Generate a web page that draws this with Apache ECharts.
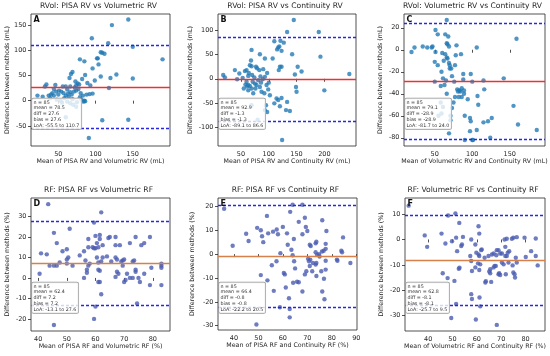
<!DOCTYPE html>
<html><head><meta charset="utf-8">
<script src="https://cdn.jsdelivr.net/npm/echarts@6/dist/echarts.min.js"></script>
<style>html,body{margin:0;padding:0;background:#fff}#c{width:550px;height:356px}</style>
</head><body><div id="c"></div>
<script>
// ---- DATA (mean of methods, difference between methods) ----
const ptsA = [[144,161],[122,150],[95,124],[117,114],[150,107],[107,96],[109,95],[112,93],[190,82],[102,84],[103,84],[79,82],[85,78],[104,72],[96,64],[69,57],[67,53],[86,51],[128,52],[107,48],[120,45],[150,44],[65,45],[82,43],[89,35],[76,34],[78,32],[66,28],[60,28],[74,30],[118,25],[44,23],[32,28],[34,32],[46,31],[22,10],[51,20],[54,18],[74,20],[77,23],[72,26],[88,12],[92,13],[96,14],[44,10],[37,10],[60,10],[64,8],[69,3],[79,7],[85,0],[86,-1],[62,-2],[66,-5],[70,-8],[75,-3],[55,-4],[48,2],[57,15],[63,14],[68,12],[80,15],[81,2],[58,5],[50,12],[42,15],[39,5],[29,8],[60,-33],[109,-39],[144,-38],[91,-74],[74,-12],[53,0],[47,18],[71,18],[83,10],[56,28],[62,22],[73,38],[99,40],[93,30],[84,-2],[66,17],[40,12]];
const ptsB = [[145,122],[133,97],[190,97],[110,78],[121,79],[127,75],[119,67],[117,65],[123,58],[115,61],[69,60],[84,51],[142,51],[107,42],[93,42],[68,38],[193,46],[120,25],[123,25],[118,18],[152,25],[159,15],[147,9],[245,10],[57,16],[60,18],[39,18],[47,11],[18,8],[21,3],[66,28],[69,26],[77,25],[79,22],[83,18],[90,20],[97,12],[93,4],[43,-1],[63,6],[60,-6],[63,-13],[66,-15],[55,-20],[69,-20],[75,-10],[78,-13],[84,-17],[87,-27],[96,-13],[99,-22],[102,-34],[114,-41],[117,-44],[123,-40],[149,-17],[150,-27],[200,-24],[110,-51],[120,-57],[133,-48],[138,-67],[131,-65],[93,-65],[97,-69],[69,-55],[95,-55],[80,-85],[124,-127],[71,-6],[81,-3],[89,-1],[63,-24],[72,-30],[58,-12],[64,12],[74,3],[86,-8],[53,2],[76,-20],[92,-30],[100,-8],[70,8],[61,-16],[85,5]];
const ptsC = [[66,27],[51,18],[54,14],[64,14],[68,12],[159,10],[19,-2],[23,2],[34,3],[40,2],[46,2],[47,3],[51,-2],[66,6],[67,5],[69,3],[79,4],[64,-4],[66,-7],[85,-4],[106,2],[50,-11],[54,-14],[67,-8],[69,-12],[70,-14],[70,-17],[72,-17],[59,-20],[77,-14],[88,-22],[98,-22],[61,-26],[65,-28],[50,-29],[100,-29],[115,-28],[142,-26],[76,-29],[88,-27],[58,-33],[63,-32],[80,-36],[83,-37],[81,-38],[86,-35],[89,-37],[116,-36],[66,-40],[77,-43],[82,-43],[86,-43],[89,-40],[107,-42],[108,-50],[155,-51],[61,-52],[73,-53],[75,-48],[71,-60],[71,-64],[90,-60],[97,-62],[98,-65],[126,-62],[121,-65],[115,-66],[161,-68],[106,-73],[97,-74],[186,-73],[69,-76],[90,-82],[100,-82],[101,-82],[124,-80],[55,-60],[59,-58],[58,-48],[62,-10],[73,-24],[84,-38],[78,-5],[60,-3],[94,-45]];
const ptsD = [[43.5,36],[62,32],[59.5,27],[45.5,22],[51,24],[46.5,17],[48.5,13],[41,12],[43,11.5],[50,14],[44,6],[45.5,6],[46.5,6],[47.5,7.5],[40.5,2],[50,9],[50.5,10],[50,7],[52,6],[54.5,11],[56,13],[57.5,15],[57.5,19],[59,15],[59.5,14.5],[60.5,17],[60,20.5],[61.5,21],[61.5,19],[62.5,16],[61,15],[60,14.5],[60.5,10],[56.5,8.5],[57,4],[58,7],[57.5,6],[56,0],[57,2.5],[61,7.5],[61,4],[61.5,3.5],[61,-2],[61.5,-2],[62,8],[62.5,10],[62,-8],[60,-14],[59.5,-20],[45.5,-23],[64,10.5],[65,20],[64.5,19.5],[65.5,8],[67,10],[67.5,9],[67,0.5],[67.5,3],[68,2],[67,20],[67,16],[68.5,16],[69,8],[69.5,8.5],[69.5,6],[70,-2],[70.5,-1],[71,2],[70,9],[72,17],[73,8],[73.5,8.5],[72,0],[73,0],[74,4],[74,3],[74,20],[75,0],[75.5,-2],[74.5,-12.5],[76,16],[77,17],[77,2],[79,-3.5],[79,20],[79.5,5],[83,7],[83,6],[83,5],[83,-3.5]];
const ptsE = [[36,19],[39.5,3.5],[45,8.5],[46,5.5],[49.5,11],[51,10],[51.5,7.5],[52,5],[53.5,16],[54,8.7],[56,9.4],[57.5,10.3],[58,8.3],[60,11.4],[61.7,8.7],[63,17.7],[64,20.7],[68,20.7],[66.5,13.5],[69,15.2],[69.4,11.4],[70,9.7],[68,8.3],[64.5,6.3],[62,3.9],[59,0.4],[63.5,1.8],[64,-0.5],[64.6,-3],[65,-6],[55.5,-4.7],[57.4,-3],[60.4,-7.9],[60.8,-8.5],[51,-8.8],[53.7,-11],[61.2,-14],[56.3,-15.4],[62.5,-18.5],[58.8,-22.3],[62.8,-23],[62.8,-26.5],[49.2,-29.5],[64.2,-12],[65.8,-11.6],[66.5,-11.8],[68,-15.7],[69,-8.5],[69.6,-7.2],[71,-5],[70.7,-3],[70.3,-2],[71.2,-2.3],[71,3.9],[71.4,3.4],[72.3,-3.7],[72,-7.2],[73.4,0.8],[74,-0.3],[73.4,4.5],[73.7,5.2],[74.8,0],[75,-1],[73.7,-3.7],[73.4,-4.4],[73.7,-9.2],[76,1.1],[76.7,1.4],[75.7,-7.2],[76.1,14.2],[76.1,-15.7],[76.8,-10.3],[77,-18.9],[77.8,9.7],[77.5,4.3],[77.5,2.2],[77.5,-2.8],[77.5,-6.5],[82.1,-2.3],[82.3,-2.8],[83.9,1.4],[84.2,0.8],[84.6,7],[87.6,-3.7]];
const ptsF = [[32,13.3],[38.6,1.6],[39.6,-2.9],[45.5,2.3],[46,-13.3],[47.1,-1.6],[48.2,9.4],[48,-15.2],[49.8,-0.7],[51.2,10.2],[51.5,0.7],[51.9,-4.6],[52.6,-11.5],[52.9,-11.1],[52.8,6.5],[53.6,-2.6],[53.9,-2],[54.3,1],[50.8,-16.3],[51.5,-25.4],[49.5,-30.9],[57.7,0],[57.3,-6.5],[57.7,-8.5],[58,-12.4],[57.7,-21.5],[58,-23.4],[59.4,-2],[59.8,-5.2],[59.4,-11],[59.6,-31.5],[60.7,5.2],[61,2.3],[60.7,-5.9],[61,-6.5],[60.5,-9.4],[61.4,-9.8],[61,-12],[61.1,-22.8],[61.4,-26.3],[61.8,-4.2],[62,-3.9],[63.2,-7.2],[63.5,-16.9],[63.7,-16.4],[64.8,-6.5],[65.5,-11.7],[65.1,-12.6],[65.5,-13.3],[65.9,-16.7],[66.2,-5.9],[66.9,-5.5],[66.9,-11],[67.3,-10.4],[67.8,-10.4],[68,-6.2],[68.2,-4.2],[68.9,-4.2],[68.9,-13.7],[69.2,-13.3],[69.6,-14],[69.6,-5.5],[70.3,-5.5],[70.3,-9.1],[71,-9.8],[71.4,0],[71.7,-6.5],[72.3,-6.5],[71.7,-2.9],[71.9,-13.7],[72.3,0.3],[72.7,-5.2],[73.3,-4.6],[73,-9.1],[74.4,0.3],[75,0.7],[74.7,-10.2],[75,-13],[75.5,-13.7],[75.7,-15],[76,-7.2],[76.4,-9.1],[76.4,0.9],[79.6,0.7],[80.1,-6.9],[82.3,-4.6],[84.2,0.4],[84.2,-6.5],[85,-10.2],[68.2,-33.6]];

const panelTitles = ['RVol: PISA RV vs Volumetric RV','RVol: PISA RV vs Continuity RV','RVol: Volumetric RV vs Continuity RV','RF: PISA RF vs Volumetric RF','RF: PISA RF vs Continuity RF','RF: Volumetric RF vs Continuity RF'];
const panelLetters = ['A','B','C','D','E','F'];
const xNames = ['Mean of PISA RV and Volumetric RV (mL)','Mean of PISA RV and Continuity RV (mL)','Mean of Volumetric RV and Continuity RV (mL)','Mean of PISA RF and Volumetric RF (%)','Mean of PISA RF and Continuity RF (%)','Mean of Volumetric RF and Continuity RF (%)'];
const yNames = ['Difference between methods (mL)','Difference between methods (mL)','Difference between methods (mL)','Difference between methods (%)','Difference between methods (%)','Difference between methods (%)'];
const statN = [85,85,85,85,85,85];
const statMean = ['78.5','92.9','79.1','62.4','66.4','62.8'];
const statBias = ['27.6','-1.3','-28.9','7.2','-0.8','-8.1'];
const loaLow = ['-55.5','-89.1','-81.7','-13.1','-22.2','-25.7'];
const loaHigh = ['110.7','86.6','24.0','27.6','20.5','9.5'];
const xTicks = [[50,100,150],[50,100,150,200],[50,100,150],[40,50,60,70,80],[40,50,60,70,80,90],[40,50,60,70,80]];
const yTicks = [[-50,0,50,100,150],[-100,-50,0,50,100],[-80,-60,-40,-20,0,20],[-20,-10,0,10,20,30],[-30,-20,-10,0,10,20],[-30,-20,-10,0,10]];

// ---- LAYOUT ----
const xRange = [[13.3,200],[8.6,257],[9,197],[37.5,86],[33.5,90.3],[30.5,88]];
const yRange = [[-90,172],[-139.5,134.5],[-87.5,32.5],[-25.9,39],[-31.8,23.5],[-36,16.3]];
const grids = [
  {left:31, top:14, width:139, height:132},
  {left:218, top:14, width:138, height:132},
  {left:404, top:14, width:141, height:132},
  {left:31, top:198, width:139, height:133},
  {left:218, top:198, width:139, height:132},
  {left:405, top:198, width:140, height:133}
];
const yNameGap = [21,25,21,21,23,21];
const allPts = [ptsA,ptsB,ptsC,ptsD,ptsE,ptsF];
const FONT = 'DejaVu Sans';

function refLineSeries(i, value, color, type, width) {
  return {
    type:'scatter', xAxisIndex:i, yAxisIndex:i, data:[], silent:true, z:3,
    markLine:{silent:true, symbol:['none','none'], label:{show:false}, animation:false,
      lineStyle:{color:color, width:width, type:type, opacity:1},
      emphasis:{disabled:true},
      data:[{yAxis:value}]}
  };
}

const option = {animation:false, backgroundColor:'#fff', grid:[], xAxis:[], yAxis:[], series:[], graphic:[]};
grids.forEach((g,i)=>{
  const top = i < 3;
  option.grid.push({left:g.left, top:g.top, width:g.width, height:g.height, show:true, borderColor:'#262626', borderWidth:0.8, backgroundColor:'transparent'});
  const axisCommon = {
    axisLine:{show:false}, splitLine:{show:false},
    axisTick:{show:true, length:3, lineStyle:{color:'#262626', width:0.8}},
    axisLabel:{fontFamily:FONT, fontSize:6.5, color:'#262626'},
    nameTextStyle:{fontFamily:FONT, fontSize:6.3, color:'#262626'},
    nameLocation:'middle'
  };
  option.xAxis.push(Object.assign({}, axisCommon, {
    type:'value', gridIndex:i, min:xRange[i][0], max:xRange[i][1], name:xNames[i], nameGap:12,
    axisTick:Object.assign({}, axisCommon.axisTick, {customValues:xTicks[i]}),
    axisLabel:Object.assign({}, axisCommon.axisLabel, {customValues:xTicks[i], margin:4.5})
  }));
  option.yAxis.push(Object.assign({}, axisCommon, {
    type:'value', gridIndex:i, min:yRange[i][0], max:yRange[i][1], name:yNames[i], nameGap:yNameGap[i],
    axisTick:Object.assign({}, axisCommon.axisTick, {customValues:yTicks[i]}),
    axisLabel:Object.assign({}, axisCommon.axisLabel, {customValues:yTicks[i], margin:4.5})
  }));
  option.series.push({
    type:'scatter', xAxisIndex:i, yAxisIndex:i, data:allPts[i], symbolSize:4.4, z:2,
    itemStyle:{color: top ? '#1f77b4' : '#4b5db0', opacity: top ? 0.78 : 0.8}
  });
  option.series.push(refLineSeries(i, parseFloat(statBias[i]), top ? '#f03030' : '#d8804a', 'solid', 1.4));
  option.series.push(refLineSeries(i, parseFloat(loaHigh[i]), '#2828e0', [3,2], 1.3));
  option.series.push(refLineSeries(i, parseFloat(loaLow[i]), '#2828e0', [3,2], 1.3));
  option.graphic.push({type:'text', x:g.left + g.width/2 - 2, y:g.top - 7.5, z:50,
    style:{text:panelTitles[i], fontFamily:FONT, fontSize:7.6, fill:'#262626', align:'center', verticalAlign:'middle'}});
  option.graphic.push({type:'text', x:g.left + 2.5, y:g.top + 2, z:50,
    style:{text:panelLetters[i], fontFamily:FONT, fontSize:8, fontWeight:'bold', fill:'#111', align:'left', verticalAlign:'top'}});
  const boxText = 'n = ' + statN[i] + '\nmean = ' + statMean[i] + '\ndiff = ' + statBias[i] + '\nbias = ' + statBias[i] + '\nLoA: ' + loaLow[i] + ' to ' + loaHigh[i];
  option.graphic.push({type:'text', x:g.left + 1, y:(top ? 98.5 : 282.5), z:60,
    style:{text:boxText, fontFamily:FONT, fontSize:4.8, lineHeight:5.8, fill:'#333', align:'left', verticalAlign:'top',
      backgroundColor:'rgba(255,255,255,0.8)', borderColor:'#999', borderWidth:0.7, borderRadius:1.5, padding:[1,2,0.5,1.5]}});
});

const chart = echarts.init(document.getElementById('c'), null, {renderer:'canvas'});
chart.setOption(option);
</script></body></html>
